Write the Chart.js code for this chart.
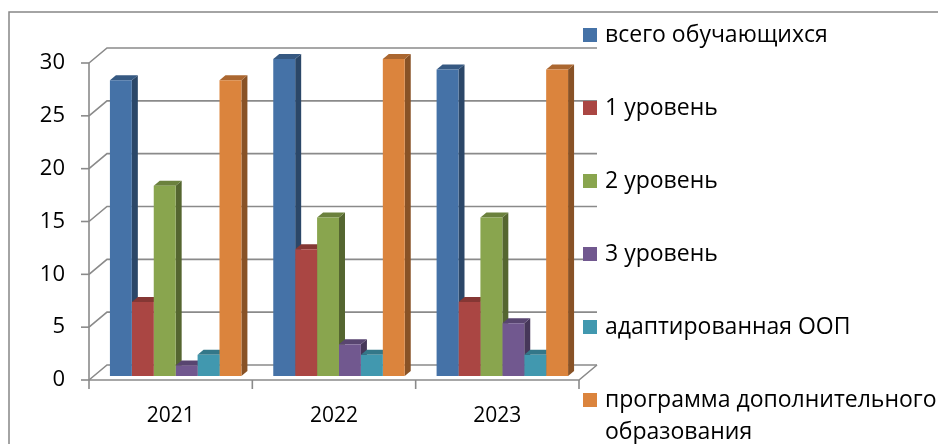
<!DOCTYPE html>
<html>
<head>
<meta charset="utf-8">
<script src="https://cdn.jsdelivr.net/npm/chart.js@4"></script>
<style>
  html, body { margin: 0; padding: 0; background: #fff; }
  #wrap { position: relative; width: 938px; height: 444px; }
</style>
</head>
<body>
<div id="wrap"><canvas id="chart" width="938" height="444"></canvas></div>
<script>
// data
var years = ['2021', '2022', '2023'];
var seriesNames = ['всего обучающихся', '1 уровень', '2 уровень', '3 уровень', 'адаптированная ООП', ['программа дополнительного', 'образования']];
var totalStudents = [28, 30, 29];
var level1 = [7, 12, 7];
var level2 = [18, 15, 15];
var level3 = [1, 3, 5];
var adaptedOOP = [2, 2, 2];
var extraProgram = [28, 30, 29];
var seriesColors = ['#4572A7', '#AA4643', '#89A54E', '#71588F', '#4198AF', '#DB843D'];

var FONT = '"Open Sans", "Noto Sans", sans-serif';
var GRID = '#8a8a8a';
// depth of the floor/walls and of a single bar, plus where bars sit in depth
var WALL_DX = 18, WALL_DY = -15;
var BAR_DX = 6, BAR_DY = -5;
var SHIFT_X = 5, SHIFT_Y = -4;

function shade(hex, f) {
    var n = parseInt(hex.slice(1), 16);
    var r = Math.round(((n >> 16) & 255) * f);
    var g = Math.round(((n >> 8) & 255) * f);
    var b = Math.round((n & 255) * f);
    return 'rgb(' + r + ',' + g + ',' + b + ')';
}

var allSeries = [totalStudents, level1, level2, level3, adaptedOOP, extraProgram];

var data = {
    labels: years,
    datasets: allSeries.map(function (values, i) {
        return {
            label: seriesNames[i],
            data: values,
            backgroundColor: seriesColors[i],
            borderWidth: 0,
            clip: false
        };
    })
};

// walls, floor and the 3d sides of bars
var box3d = {
    id: 'box3d',
    beforeDatasetsDraw: function (chart) {
        var ctx = chart.ctx;
        var a = chart.chartArea;
        var y = chart.scales.y;
        var x = chart.scales.x;
        ctx.save();
        ctx.strokeStyle = GRID;
        ctx.lineWidth = 1.6;
        // back grid + left wall slants
        for (var v = 0; v <= 30; v += 5) {
            var py = y.getPixelForValue(v);
            ctx.beginPath();
            ctx.moveTo(a.left, py);
            ctx.lineTo(a.left + WALL_DX, py + WALL_DY);
            ctx.lineTo(a.right + WALL_DX, py + WALL_DY);
            ctx.stroke();
            // tick mark
            ctx.beginPath();
            ctx.moveTo(a.left - 8, py);
            ctx.lineTo(a.left, py);
            ctx.stroke();
        }
        // front axis line
        ctx.beginPath();
        ctx.moveTo(a.left, y.getPixelForValue(30));
        ctx.lineTo(a.left, a.bottom);
        ctx.stroke();
        // floor front edge and right slant
        ctx.beginPath();
        ctx.moveTo(a.left, a.bottom);
        ctx.lineTo(a.right, a.bottom);
        ctx.lineTo(a.right + WALL_DX, a.bottom + WALL_DY);
        ctx.stroke();
        // category ticks
        var n = x.ticks.length;
        var w = (a.right - a.left) / n;
        for (var i = 0; i <= n; i++) {
            var px = a.left + i * w;
            ctx.beginPath();
            ctx.moveTo(px, a.bottom);
            ctx.lineTo(px, a.bottom + 9);
            ctx.stroke();
        }
        ctx.restore();

        // bars sit in the middle of the depth
        ctx.save();
        ctx.translate(SHIFT_X, SHIFT_Y);
        var metas = chart.data.datasets.map(function (d, i) { return chart.getDatasetMeta(i); });
        for (var c = 0; c < years.length; c++) {
            metas.forEach(function (meta, i) {
                var bar = meta.data[c];
                var left = bar.x - bar.width / 2;
                var right = bar.x + bar.width / 2;
                var top = bar.y;
                var base = bar.base;
                // side face
                ctx.fillStyle = shade(seriesColors[i], 0.62);
                ctx.beginPath();
                ctx.moveTo(right, base);
                ctx.lineTo(right, top);
                ctx.lineTo(right + BAR_DX, top + BAR_DY);
                ctx.lineTo(right + BAR_DX, base + BAR_DY);
                ctx.closePath();
                ctx.fill();
                // top face
                ctx.fillStyle = shade(seriesColors[i], 0.78);
                ctx.beginPath();
                ctx.moveTo(left, top);
                ctx.lineTo(right, top);
                ctx.lineTo(right + BAR_DX, top + BAR_DY);
                ctx.lineTo(left + BAR_DX, top + BAR_DY);
                ctx.closePath();
                ctx.fill();
            });
        }
        // keep translation for the fronts drawn by Chart.js
    },
    afterDatasetsDraw: function (chart) {
        chart.ctx.restore();
    },
    afterDraw: function (chart) {
        var ctx = chart.ctx;
        ctx.save();
        // outer frame
        ctx.strokeStyle = '#878787';
        ctx.lineWidth = 1.5;
        ctx.beginPath();
        ctx.moveTo(9, 444);
        ctx.lineTo(9, 12);
        ctx.lineTo(938, 12);
        ctx.stroke();
        // legend
        ctx.font = '23px ' + FONT;
        ctx.textBaseline = 'middle';
        ctx.fillStyle = '#000';
        var rowY = [35, 108, 181, 254, 327, 400];
        chart.data.datasets.forEach(function (d, i) {
            var cy = rowY[i];
            ctx.fillStyle = seriesColors[i];
            ctx.fillRect(583, cy - 7, 14, 14);
            ctx.fillStyle = '#000';
            var lines = Array.isArray(d.label) ? d.label : [d.label];
            lines.forEach(function (t, k) {
                ctx.fillText(t, 605, cy + k * 32);
            });
        });
        ctx.restore();
    }
};

new Chart(document.getElementById('chart'), {
    type: 'bar',
    data: data,
    plugins: [box3d],
    options: {
        responsive: false,
        animation: false,
        layout: { padding: { top: 63, right: 359, left: 0, bottom: 0 } },
        datasets: { bar: { barPercentage: 1, categoryPercentage: 0.805 } },
        plugins: {
            legend: { display: false },
            tooltip: { enabled: false }
        },
        scales: {
            x: {
                grid: { display: false, drawTicks: false },
                border: { display: false },
                ticks: { color: '#000', font: { family: FONT, size: 21 }, padding: 23 },
                afterFit: function (s) { s.height = 64; }
            },
            y: {
                min: 0,
                max: 30,
                grid: { display: false, drawTicks: false },
                border: { display: false },
                ticks: { stepSize: 5, color: '#000', font: { family: FONT, size: 22 }, padding: 24 },
                afterFit: function (s) { s.width = 89; }
            }
        }
    }
});
</script>
</body>
</html>
